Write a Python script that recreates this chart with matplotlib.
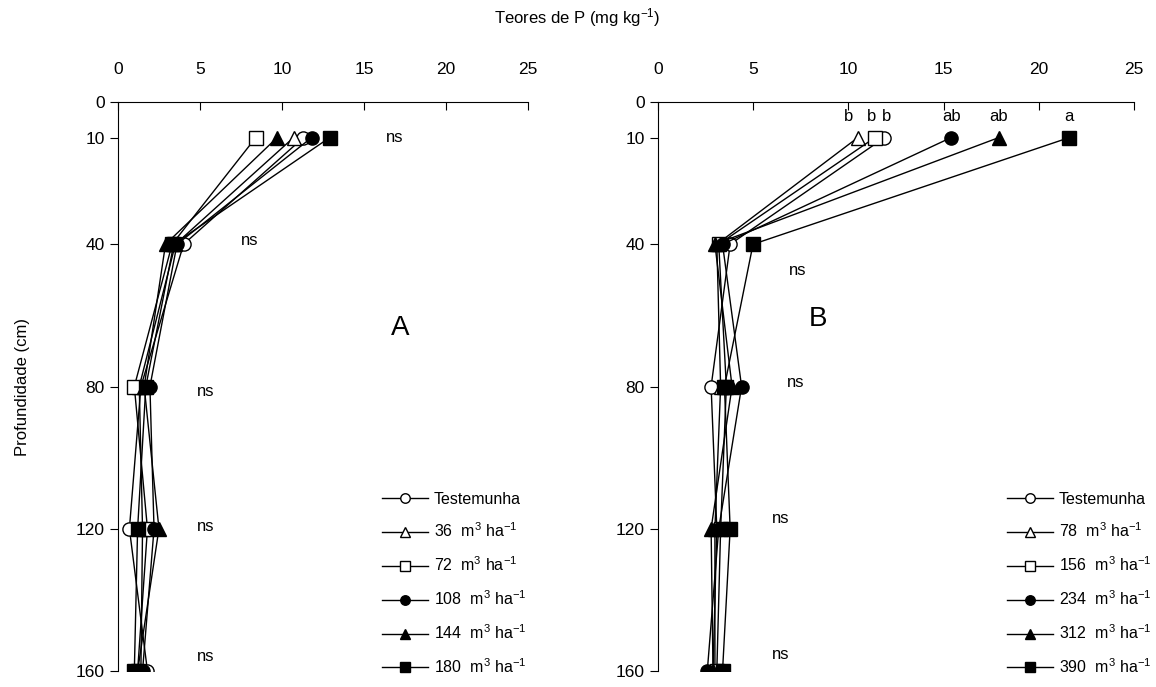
import numpy as np
import matplotlib.pyplot as plt

plt.rcParams['font.family'] = ['Liberation Sans', 'DejaVu Sans']
plt.rcParams['mathtext.default'] = 'regular'

depth = [10, 40, 80, 120, 160]

# panel A: Teores de P (mg/kg) by depth
doses_a = ['Testemunha', '36', '72', '108', '144', '180']
a_test = [11.3, 4.0, 1.4, 0.7, 1.8]
a_36 = [10.7, 3.5, 1.3, 1.5, 1.4]
a_72 = [8.4, 3.3, 1.0, 1.8, 1.2]
a_108 = [11.8, 3.6, 1.95, 2.2, 1.5]
a_144 = [9.7, 2.9, 1.6, 2.5, 1.2]
a_180 = [12.9, 3.4, 1.7, 1.2, 1.0]

# panel B
doses_b = ['Testemunha', '78', '156', '234', '312', '390']
b_test = [11.9, 3.8, 2.8, 3.1, 2.9]
b_78 = [10.5, 3.1, 3.3, 3.0, 3.0]
b_156 = [11.4, 3.2, 3.6, 3.3, 3.1]
b_234 = [15.4, 3.4, 4.4, 3.2, 2.6]
b_312 = [17.9, 3.0, 3.9, 2.8, 2.9]
b_390 = [21.6, 5.0, 3.5, 3.8, 3.4]

# letters over the 10 cm points (x positions as read)
b_let_x = [10.0, 11.2, 12.0, 15.4, 17.9, 21.6]
b_lets = ['b', 'b', 'b', 'ab', 'ab', 'a']

markers = ['o', '^', 's', 'o', '^', 's']
faces = ['white', 'white', 'white', 'black', 'black', 'black']

fig = plt.figure(figsize=(11.56, 6.87), dpi=100)
axA = fig.add_axes([0.102, 0.0233, 0.355, 0.8282])
axB = fig.add_axes([0.569, 0.0233, 0.412, 0.8282])


def draw(ax, series, doses, anchor_x):
    for i, vals in enumerate(series):
        if doses[i] == 'Testemunha':
            lab = 'Testemunha'
        else:
            lab = doses[i] + '  m$^3$ ha$^{-1}$'
        ax.plot(vals, depth, color='black', lw=1.0, marker=markers[i],
                markersize=9.5, markerfacecolor=faces[i],
                markeredgecolor='black', markeredgewidth=1.0, label=lab)
    ax.set_xlim(0, 25)
    ax.set_ylim(160, 0)
    ax.set_xticks([0, 5, 10, 15, 20, 25])
    ax.set_yticks([0, 10, 40, 80, 120, 160])
    ax.xaxis.tick_top()
    ax.tick_params(axis='x', direction='in', length=6, pad=18, labelsize=12.5)
    ax.tick_params(axis='y', direction='out', length=6, labelsize=12.5)
    ax.spines['right'].set_visible(False)
    ax.spines['bottom'].set_visible(False)
    ax.legend(loc='lower right', frameon=False, fontsize=11.5, markerscale=0.72,
              handlelength=2.9, labelspacing=0.95, handletextpad=0.35,
              borderaxespad=0.0, bbox_to_anchor=(anchor_x, -0.02))


draw(axA, [a_test, a_36, a_72, a_108, a_144, a_180], doses_a, 1.01)
draw(axB, [b_test, b_78, b_156, b_234, b_312, b_390], doses_b, 1.05)

# significance marks
axA.text(16.3, 10, 'ns', fontsize=12, va='center')
axA.text(7.5, 39, 'ns', fontsize=12, va='center')
axA.text(4.8, 81.5, 'ns', fontsize=12, va='center')
axA.text(4.8, 119.5, 'ns', fontsize=12, va='center')
axA.text(4.8, 156, 'ns', fontsize=12, va='center')
axA.text(17.2, 63.5, 'A', fontsize=20, ha='center', va='center')

for v, let in zip(b_let_x, b_lets):
    axB.text(v, 4.0, let, fontsize=12, ha='center', va='center')
axB.text(6.9, 47.5, 'ns', fontsize=12, va='center')
axB.text(6.8, 79, 'ns', fontsize=12, va='center')
axB.text(6.0, 117, 'ns', fontsize=12, va='center')
axB.text(6.0, 155.5, 'ns', fontsize=12, va='center')
axB.text(8.4, 61, 'B', fontsize=20, ha='center', va='center')

axA.set_ylabel('Profundidade (cm)', fontsize=12)
axA.yaxis.set_label_coords(-0.215, 0.5)
fig.text(0.499, 0.975, 'Teores de P (mg kg$^{-1}$)', fontsize=12,
         ha='center', va='center')

fig.savefig('out.png', dpi=100)
